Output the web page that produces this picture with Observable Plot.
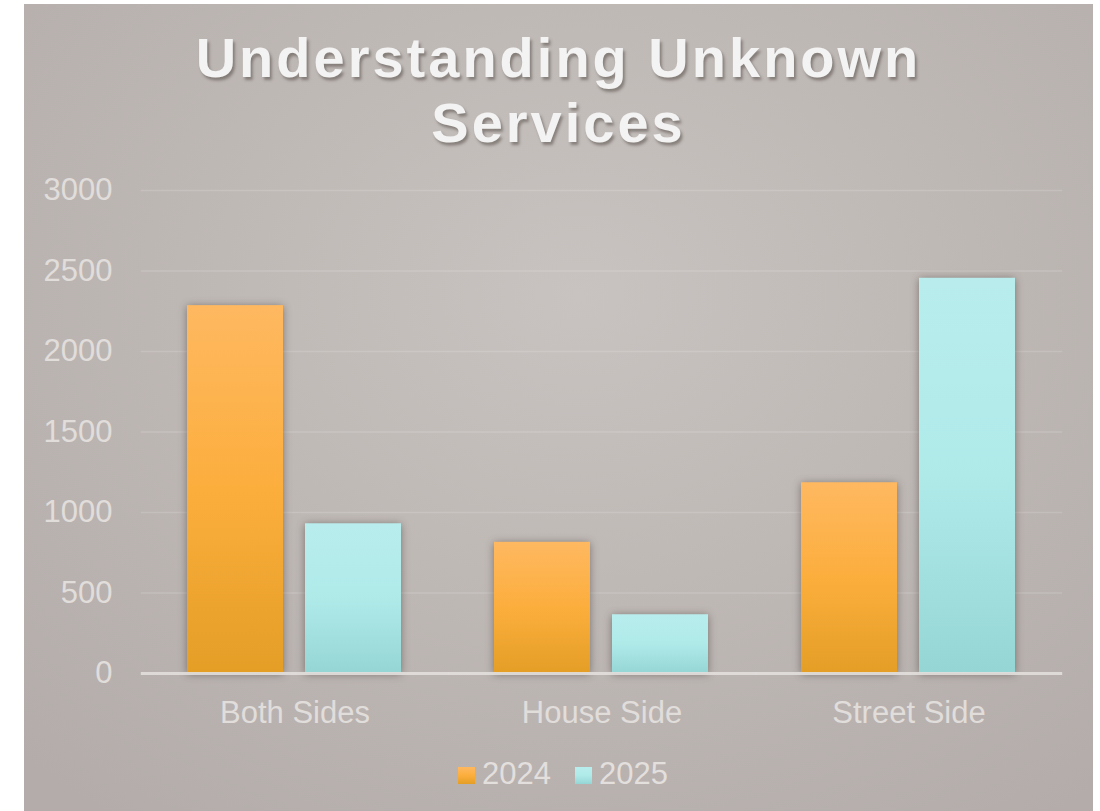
<!DOCTYPE html>
<html>
<head>
<meta charset="utf-8">
<script src="https://cdn.jsdelivr.net/npm/d3@7"></script>
<script src="https://cdn.jsdelivr.net/npm/@observablehq/plot@0.6"></script>
<style>
  html, body { margin: 0; padding: 0; background: #ffffff; }
  body { width: 1100px; height: 811px; position: relative; overflow: hidden; font-family: "Liberation Sans", Arial, sans-serif; }
  #panel {
    position: absolute; left: 24px; top: 4px; width: 1069px; height: 807px;
    background: radial-gradient(ellipse 75% 80% at 52% 36%, #c8c3c0 0%, #bfb9b6 45%, #b3acaa 100%);
    overflow: hidden;
  }
  #title {
    position: absolute; left: 0; top: 21px; width: 100%;
    text-align: center; font-weight: bold; font-size: 56px; line-height: 65px;
    letter-spacing: 3px; color: #f3f3f3;
    text-shadow: 2px 3px 3px rgba(60,50,45,0.45);
  }
  #chart { position: absolute; left: 0; top: 148px; }
  #legend {
    position: absolute; left: 0; top: 750px; width: 100%; height: 40px;
    display: flex; justify-content: center; align-items: center;
    padding-left: 9px; box-sizing: border-box;
    font-size: 31px; color: #e3dfdd;
  }
  .item { display: flex; align-items: center; margin: 0 12px; }
  .sw { width: 17px; height: 17px; margin-right: 7px; margin-top: 3px; }
  g[aria-label="bar"] rect { filter: drop-shadow(0px 1px 4px rgba(40,30,25,0.45)); }
</style>
</head>
<body>
<div id="panel">
  <div id="title">Understanding Unknown<br>Services</div>
  <div id="chart"></div>
  <div id="legend"></div>
</div>
<script>
const categories = ["Both Sides", "House Side", "Street Side"];
const years = ["2024", "2025"];
const values2024 = [2285, 815, 1185];
const values2025 = [930, 365, 2455];
const yTicks = [0, 500, 1000, 1500, 2000, 2500, 3000];

const gradients = {
  "2024": [["0%", "#feb860"], ["50%", "#fcae3d"], ["100%", "#e49e26"]],
  "2025": [["0%", "#b9eded"], ["50%", "#afeae9"], ["100%", "#95d6d5"]]
};

const data = categories.flatMap((c, i) => [
  {cat: c, year: "2024", value: values2024[i]},
  {cat: c, year: "2025", value: values2025[i]}
]);

const textColor = "#e1dddb";

const svg = Plot.plot({
  width: 1069,
  height: 580,
  marginLeft: 116,
  marginRight: 30,
  marginTop: 38,
  marginBottom: 59,
  style: {background: "transparent", fontFamily: "'Liberation Sans', Arial, sans-serif", overflow: "visible", color: textColor},
  fx: {domain: categories, paddingInner: 0.3, paddingOuter: 0.15, label: null},
  x: {domain: years, paddingInner: 0.185, paddingOuter: 0, axis: null},
  y: {domain: [0, 3000], axis: null},
  color: {domain: years, range: years.map(y => `url(#g${y})`)},
  marks: [
    Plot.ruleY(yTicks.slice(1), {stroke: "#ffffff", strokeOpacity: 0.14, strokeWidth: 1.5, insetLeft: -46.2, insetRight: -46.2}),
    Plot.barY(data, {fx: "cat", x: "year", y: "value", fill: "year"}),
    Plot.ruleY([0], {stroke: "#e2dfdd", strokeOpacity: 0.9, strokeWidth: 3, insetLeft: -46.2, insetRight: -46.2}),
    Plot.axisY({ticks: yTicks, tickFormat: d => String(d), tickSize: 0, tickPadding: 75, fontSize: 31, fill: textColor, label: null}),
    Plot.axisFx({anchor: "bottom", tickSize: 0, tickPadding: 27, fontSize: 31, fill: textColor, label: null})
  ]
});

const defs = d3.select(svg).insert("defs", ":first-child");
for (const y of years) {
  const lg = defs.append("linearGradient").attr("id", `g${y}`)
    .attr("x1", 0).attr("y1", 0).attr("x2", 0).attr("y2", 1);
  for (const [o, c] of gradients[y]) lg.append("stop").attr("offset", o).attr("stop-color", c);
}
document.getElementById("chart").appendChild(svg);

const legend = d3.select("#legend");
for (const y of years) {
  const it = legend.append("div").attr("class", "item");
  const g = gradients[y];
  it.append("div").attr("class", "sw")
    .style("background", `linear-gradient(to bottom, ${g[0][1]}, ${g[1][1]} 50%, ${g[2][1]})`);
  it.append("span").text(y);
}
</script>
</body>
</html>
